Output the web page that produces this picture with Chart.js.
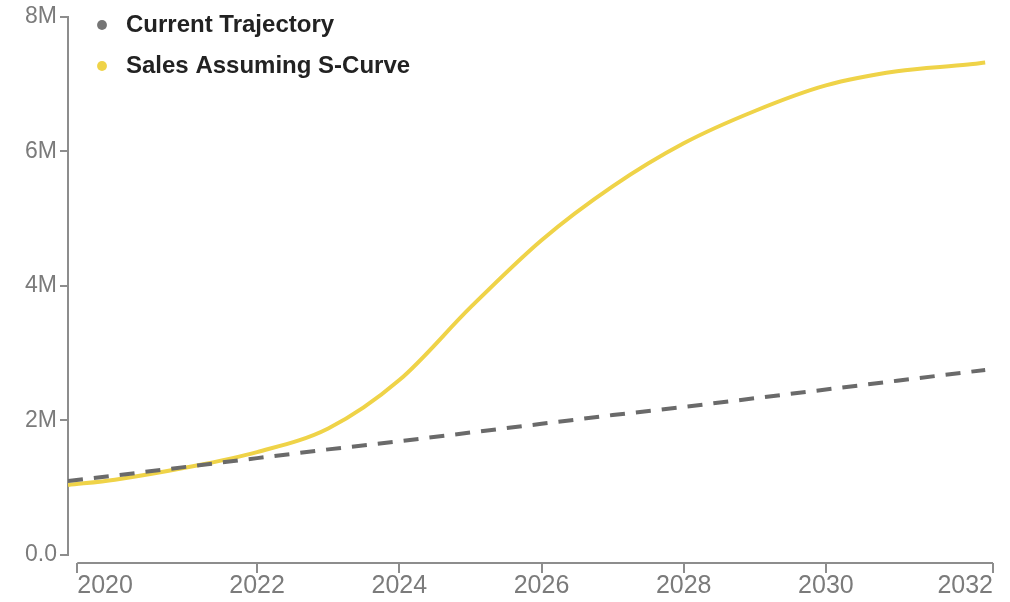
<!DOCTYPE html>
<html>
<head>
<meta charset="utf-8">
<script src="https://cdn.jsdelivr.net/npm/chart.js@4.4.1/dist/chart.umd.min.js"></script>
<style>
  html, body { margin: 0; padding: 0; background: #fff; }
</style>
</head>
<body>
<canvas id="chart" width="1010" height="602"></canvas>
<script>
// Years sampled along both curves
const years = [2019.34, 2020, 2021, 2022, 2023, 2024, 2025, 2026, 2027, 2028, 2029, 2030, 2031, 2032, 2032.24];

// Sales, millions of units
const currentTrajectory = [1.10, 1.18, 1.31, 1.44, 1.57, 1.69, 1.82, 1.95, 2.08, 2.20, 2.33, 2.46, 2.59, 2.72, 2.75];
const sCurveSales = [1.04, 1.12, 1.30, 1.53, 1.88, 2.60, 3.68, 4.68, 5.48, 6.12, 6.60, 6.98, 7.19, 7.29, 7.32];

// Axis ticks (the outer x ticks sit on the ends of the axis)
const xTickValues = [2019.47, 2022, 2024, 2026, 2028, 2030, 2032.35];
const xTickLabels = ['2020', '2022', '2024', '2026', '2028', '2030', '2032'];
const yTickValues = [0, 2, 4, 6, 8];
const yTickLabels = ['0.0', '2M', '4M', '6M', '8M'];

const AXIS_GREY = '#8d8d8d';
const TICK_GREY = '#7b7b7b';
const FONT = "'Liberation Sans', Arial, sans-serif";

const toPoints = values => values.map((v, i) => ({ x: years[i], y: v }));

// x axis line sits a little below the plot, detached from the y axis
const offsetXAxis = {
    id: 'offsetXAxis',
    afterDraw(chart) {
        const { ctx, chartArea, scales: { x } } = chart;
        const y = chartArea.bottom + 8;
        const first = x.getPixelForValue(xTickValues[0]);
        const last = x.getPixelForValue(xTickValues[xTickValues.length - 1]);
        ctx.save();
        ctx.strokeStyle = AXIS_GREY;
        ctx.lineWidth = 2;
        ctx.beginPath();
        ctx.moveTo(first, y);
        ctx.lineTo(last, y);
        xTickValues.forEach(v => {
            const px = Math.round(x.getPixelForValue(v));
            ctx.moveTo(px, y);
            ctx.lineTo(px, y + 10);
        });
        ctx.stroke();
        ctx.restore();
    }
};

// legend floats in the top-left corner of the plot
const legendNudge = {
    id: 'legendNudge',
    afterLayout(chart) {
        chart.legend.left += 5;
        chart.legend.top -= 4;
    }
};

new Chart(document.getElementById('chart'), {
    type: 'line',
    data: {
        datasets: [
            {
                label: 'Current Trajectory',
                data: toPoints(currentTrajectory),
                borderColor: '#6a6a6a',
                backgroundColor: '#757575',
                borderWidth: 4,
                borderDash: [15, 11],
                pointRadius: 0,
                tension: 0
            },
            {
                label: 'Sales Assuming S-Curve',
                data: toPoints(sCurveSales),
                borderColor: '#efd348',
                backgroundColor: '#efd348',
                borderWidth: 4,
                pointRadius: 0,
                cubicInterpolationMode: 'monotone'
            }
        ]
    },
    options: {
        responsive: false,
        animation: false,
        devicePixelRatio: 1,
        layout: { padding: { top: 15, right: 17, bottom: 0, left: 0 } },
        plugins: {
            tooltip: { enabled: false },
            legend: {
                position: 'chartArea',
                align: 'start',
                labels: {
                    usePointStyle: true,
                    pointStyle: 'circle',
                    boxHeight: 7,
                    padding: 17,
                    color: '#222222',
                    font: { family: FONT, size: 24, weight: 'bold' },
                    generateLabels(chart) {
                        return Chart.defaults.plugins.legend.labels.generateLabels(chart).map(item => ({
                            ...item,
                            lineWidth: 0,
                            lineDash: []
                        }));
                    }
                }
            }
        },
        scales: {
            x: {
                type: 'linear',
                min: 2019.34,
                max: 2032.35,
                afterBuildTicks(scale) {
                    scale.ticks = xTickValues.map(v => ({ value: v }));
                },
                afterFit(scale) {
                    scale.height = 47;
                    scale.paddingLeft = 0;
                    scale.paddingRight = 0;
                },
                border: { display: false },
                grid: { display: false, drawTicks: false },
                ticks: {
                    align: 'inner',
                    padding: 16,
                    autoSkip: false,
                    maxRotation: 0,
                    color: TICK_GREY,
                    font: { family: FONT, size: 25 },
                    callback: (value, index) => xTickLabels[index]
                }
            },
            y: {
                min: 0,
                max: 8,
                afterBuildTicks(scale) {
                    scale.ticks = yTickValues.map(v => ({ value: v }));
                },
                afterFit(scale) {
                    scale.width = 68;
                },
                border: { display: true, color: AXIS_GREY, width: 2 },
                grid: {
                    display: true,
                    drawOnChartArea: false,
                    drawTicks: true,
                    tickLength: 8,
                    color: AXIS_GREY,
                    lineWidth: 2
                },
                ticks: {
                    padding: 3,
                    color: TICK_GREY,
                    font: { family: FONT, size: 23 },
                    callback: (value, index) => yTickLabels[index]
                }
            }
        }
    },
    plugins: [offsetXAxis, legendNudge]
});
</script>
</body>
</html>
